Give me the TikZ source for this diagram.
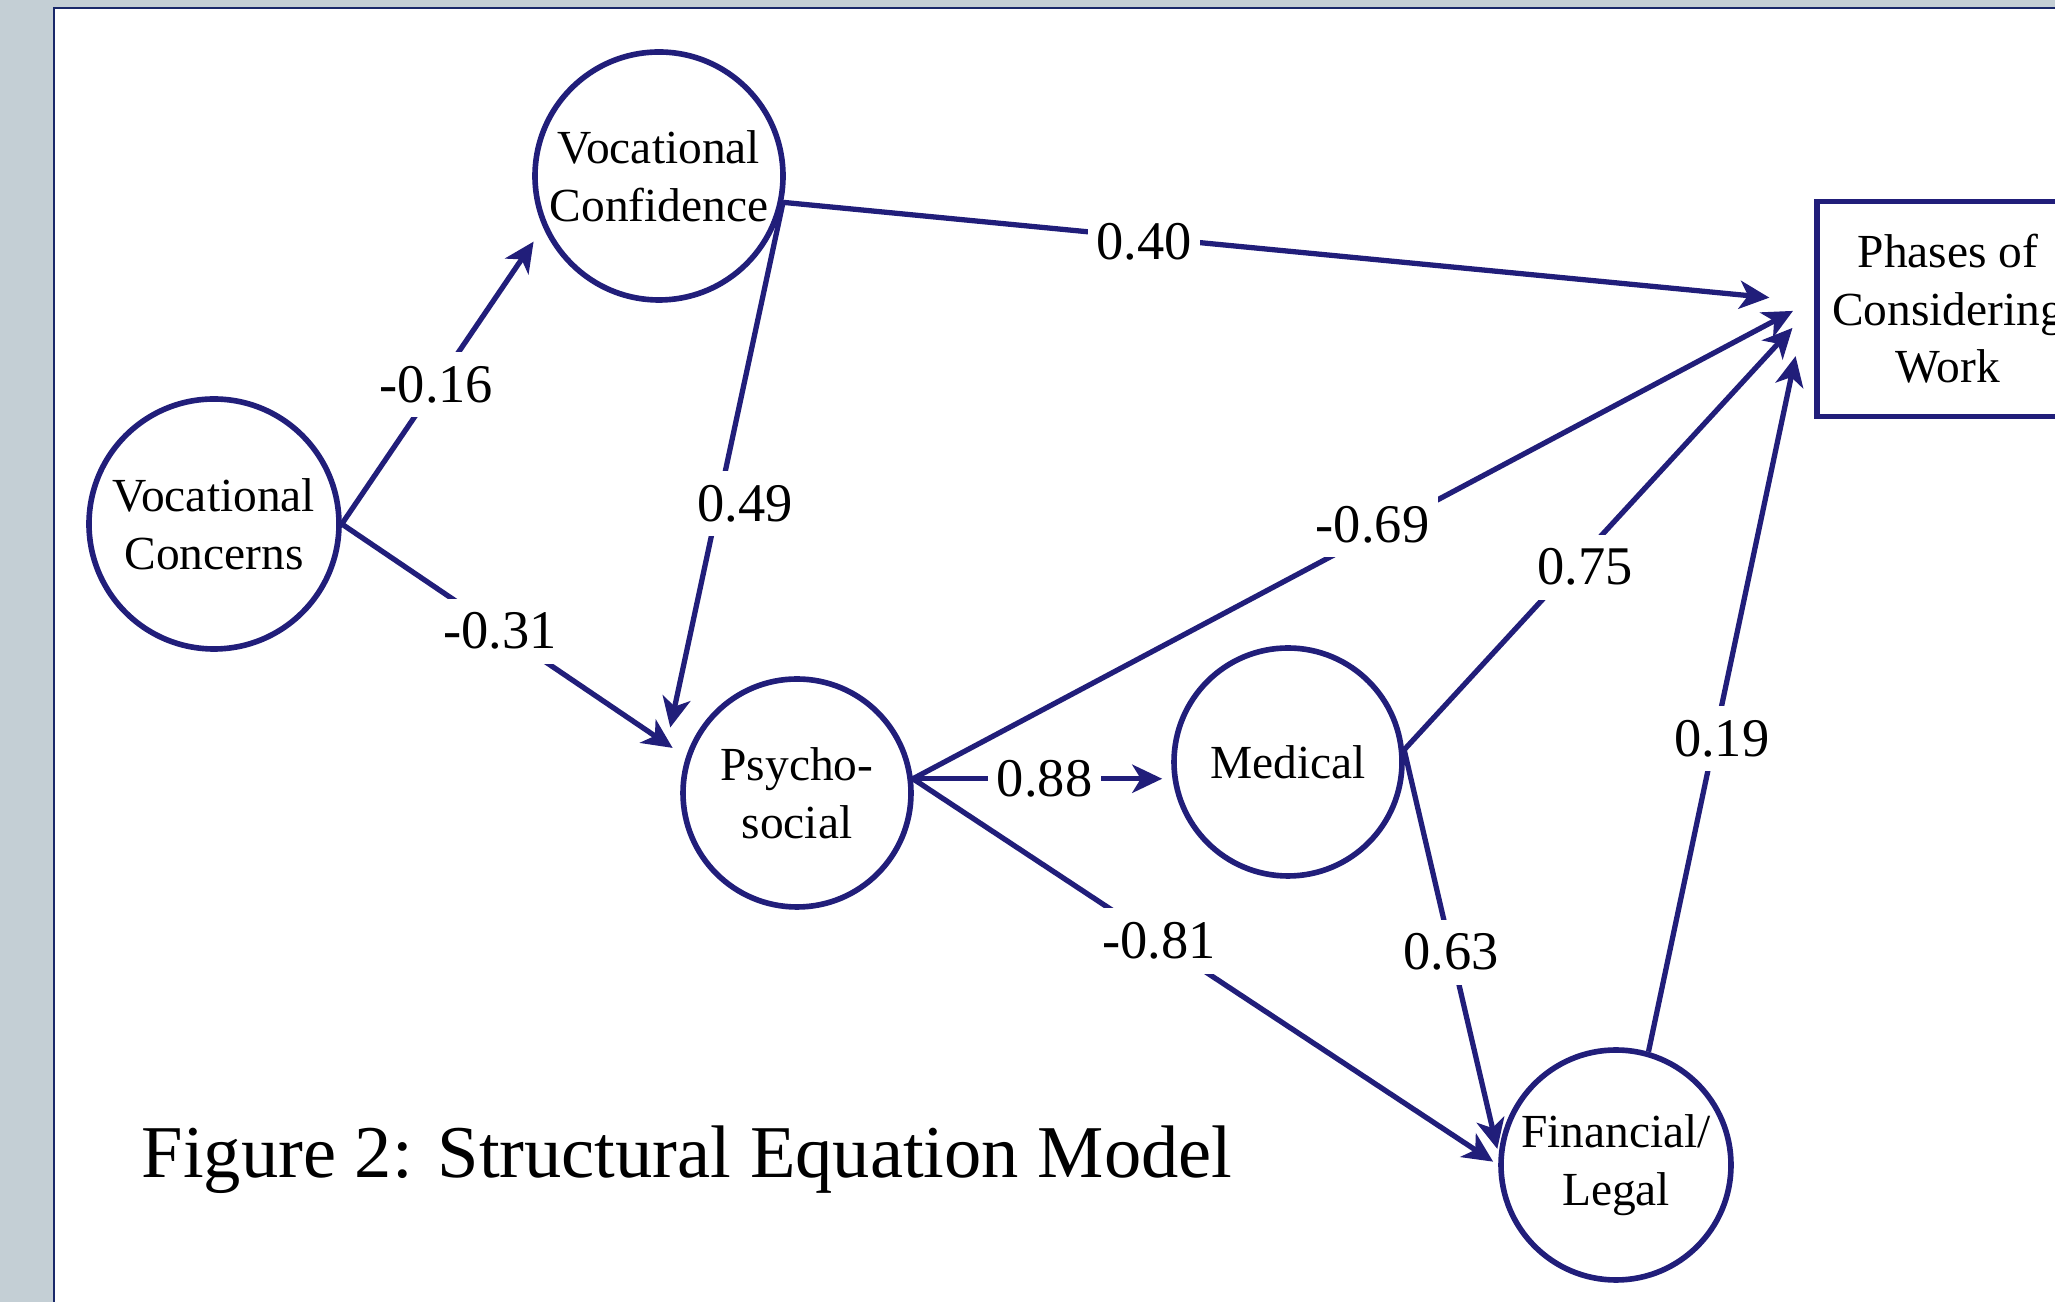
\documentclass[tikz,border=0pt]{standalone}
\usepackage{fontspec}
\setmainfont{Liberation Serif}
\usetikzlibrary{arrows.meta}

\definecolor{navy}{RGB}{33,30,122}
\definecolor{framenavy}{RGB}{25,40,105}
\definecolor{slide}{RGB}{196,207,213}

\begin{document}
\begin{tikzpicture}[
  factor/.style  = {circle, draw=navy, line width=1.6pt, fill=white, inner sep=0pt,
                    align=center, font=\fontsize{13.5}{16.4}\selectfont},
  outcome/.style = {rectangle, draw=navy, line width=1.6pt, fill=white, inner sep=0pt,
                    minimum width=2.62cm, minimum height=2.15cm,
                    align=center, font=\fontsize{13.5}{16.4}\selectfont},
  effect/.style  = {draw=navy, line width=1.5pt,
                    -{Stealth[length=8.5pt,width=8pt,inset=2.4pt]}},
  lbl/.style     = {fill=white, inner xsep=2.5pt, inner ysep=4pt,
                    font=\fontsize{15.5}{18}\selectfont},
  caption/.style = {anchor=base west, inner sep=0pt,
                    font=\fontsize{21.2}{25}\selectfont},
]

  % slide background and white panel
  \useasboundingbox (0,0) rectangle (20.55,13.02);
  \clip (0,0) rectangle (20.55,13.02);
  \fill[slide] (0,0) rectangle (20.55,13.02);
  \draw[framenavy, line width=0.6pt, fill=white] (0.54,-0.2) rectangle (21,12.94);

  \node[factor, minimum size=2.50cm] (vconc) at (2.14,7.78)  {Vocational\\Concerns};
  \node[factor, minimum size=2.48cm] (vconf) at (6.59,11.26) {Vocational\\Confidence};
  \node[factor, minimum size=2.28cm] (psych) at (7.97,5.09)  {Psycho-\\social};
  \node[factor, minimum size=2.28cm] (med)   at (12.88,5.40) {Medical};
  \node[factor, minimum size=2.30cm] (fin)   at (16.16,1.37) {Financial/\\Legal};
  \node[outcome] (phases) at (19.48,9.93) {Phases of\\Considering\\Work};

  \draw[effect, shorten >=0.17cm] (vconc.east) to node[lbl, pos=0.47] (w1) {-0.16} (vconf.204);
  \draw[effect, shorten >=0.16cm] (vconc.east) to node[lbl, pos=0.46] (w2) {-0.31} (psych.162);
  \draw[effect, shorten >=0.45cm] (vconf.-12) to node[lbl, pos=0.35, yshift=-0.05cm] (w3) {0.40} (phases.177);
  \draw[effect, shorten >=0.67cm] (vconf.-12) to node[lbl, pos=0.51, xshift=0.27cm] (w4) {0.49} ([xshift=-0.24cm]psych.west);
  \draw[effect, shorten >=0.24cm] (psych.7) to node[lbl, pos=0.51, yshift=0.10cm] (w5) {-0.69} (phases.176);
  \draw[effect, shorten >=0.09cm] (psych.7) to node[lbl, pos=0.51] (w6) {0.88} (psych.7 -| med.west);
  \draw[effect, shorten >=0.06cm] (psych.7) to node[lbl, pos=0.42] (w7) {-0.81} (fin.west);
  \draw[effect, shorten >=0.32cm] (med.6) to node[lbl, pos=0.41, xshift=0.13cm] (w8) {0.75} (phases.178);
  \draw[effect, shorten >=0.06cm] (med.6) to node[lbl, pos=0.50] (w9) {0.63} (fin.175);
  \draw[effect, shorten >=0.90cm] (fin.74) to node[lbl, pos=0.40, xshift=0.07cm] (w10) {0.19} (phases.163);

  \node[caption] (cap) at (1.41,1.24) {Figure 2: Structural Equation Model};
\end{tikzpicture}
\end{document}
